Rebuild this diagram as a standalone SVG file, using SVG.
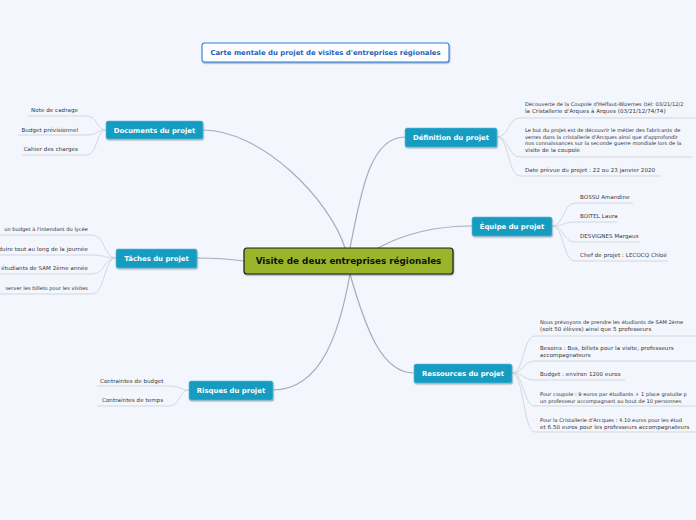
<svg xmlns="http://www.w3.org/2000/svg" width="696" height="520" viewBox="0 0 696 520">
<defs>
<filter id="sh" x="-10%" y="-20%" width="120%" height="160%"><feDropShadow dx="0.6" dy="1.2" stdDeviation="0.6" flood-color="#000" flood-opacity="0.35"/></filter>
</defs>
<style>
.bg{fill:#f3f6fd}
.br rect{fill:#189bc1;stroke:#5fbcd8;stroke-width:0.6}
.br text{fill:#fff;font-family:"DejaVu Sans",sans-serif;font-weight:bold;font-size:6.9px;text-anchor:middle}
.lf{fill:#333;font-family:"DejaVu Sans",sans-serif;font-size:5.5px;letter-spacing:0.08px}
.e{font-size:5.15px;letter-spacing:0}
.lr{text-anchor:end}
.c{fill:none;stroke:#a8abb6;stroke-width:1.2}
.u{fill:none;stroke:#cfd2da;stroke-width:0.9}
</style>
<rect class="bg" x="0" y="0" width="696" height="520"/>
<g id="connectors">
<path class="c" d="M345,248 C330,200 262,130 203,130"/>
<path class="c" d="M350,248 C360,200 368,137 405,137"/>
<path class="c" d="M378,248 C400,236 432,226 472,226"/>
<path class="c" d="M244,261 C230,259 212,258 197,258"/>
<path class="c" d="M350,274 C340,330 322,390 273,390"/>
<path class="c" d="M350,274 C366,330 382,373 414,373"/>
<path class="u" d="M106,130 C96,130 98,116 86,116 H28"/>
<path class="u" d="M106,130 C96,130 98,135 86,135 H18"/>
<path class="u" d="M106,130 C96,130 98,155 86,155 H22"/>
<path class="u" d="M116,258 C104,258 105,235 92,235 H0"/>
<path class="u" d="M116,258 C104,258 105,255 92,255 H0"/>
<path class="u" d="M116,258 C104,258 105,274 92,274 H0"/>
<path class="u" d="M116,258 C104,258 105,294 92,294 H0"/>
<path class="u" d="M189,390 C179,390 180,386 170,386 H97"/>
<path class="u" d="M189,390 C179,390 180,406 170,406 H97"/>
<path class="u" d="M497,137 C509,137 508,118 520,118 H696"/>
<path class="u" d="M497,137 C509,137 508,157 520,157 H692"/>
<path class="u" d="M497,137 C509,137 508,176 520,176 H661"/>
<path class="u" d="M552,226 C564,226 563,203 575,203 H633"/>
<path class="u" d="M552,226 C564,226 563,222 575,222 H617"/>
<path class="u" d="M552,226 C564,226 563,242 575,242 H640"/>
<path class="u" d="M552,226 C564,226 563,261 575,261 H668"/>
<path class="u" d="M512,373 C524,373 523,336 535,336 H696"/>
<path class="u" d="M512,373 C524,373 523,361 535,361 H696"/>
<path class="u" d="M512,373 C524,373 523,380 535,380 H625"/>
<path class="u" d="M512,373 C524,373 523,406 535,406 H696"/>
<path class="u" d="M512,373 C524,373 523,432 535,432 H696"/>
</g>
<g id="title">
<rect x="202" y="43" width="247" height="19" rx="2.5" fill="#fff" stroke="#2f7fdc" stroke-width="1.1" filter="url(#sh)"/>
<text x="325.5" y="55.2" fill="#1f5fbf" font-family="DejaVu Sans,sans-serif" font-weight="bold" font-size="6.9" text-anchor="middle">Carte mentale du projet de visites d'entreprises régionales</text>
</g>
<g id="center">
<rect x="244" y="248" width="209" height="26" rx="3" fill="#9bb52b" stroke="#1e1e1e" stroke-width="1.2" filter="url(#sh)"/>
<text x="348.5" y="264.3" fill="#111" font-family="DejaVu Sans,sans-serif" font-weight="bold" font-size="8.8" text-anchor="middle">Visite de deux entreprises régionales</text>
</g>
<g id="documents" class="br">
<rect x="106" y="121" width="97" height="18" rx="2" filter="url(#sh)"/>
<text x="154.5" y="132.5">Documents du projet</text>
</g>
<g id="documents-leaves">
<text class="lf lr" x="78" y="112">Note de cadrage</text>
<text class="lf lr" x="78" y="132">Budget prévisionnel</text>
<text class="lf lr" x="78" y="151">Cahier des charges</text>
</g>
<g id="taches" class="br">
<rect x="116" y="249" width="81" height="19" rx="2" filter="url(#sh)"/>
<text x="156.5" y="261">Tâches du projet</text>
</g>
<g id="taches-leaves">
<text class="lf lr e" x="88" y="231">un budget à l'intendant du lycée</text>
<text class="lf lr" x="88" y="251">duire tout au long de la journée</text>
<text class="lf lr" x="88" y="270">étudiants  de SAM 2ème année</text>
<text class="lf lr e" x="88" y="290">server les billets pour les visites</text>
</g>
<g id="risques" class="br">
<rect x="189" y="381" width="84" height="19" rx="2" filter="url(#sh)"/>
<text x="231" y="393">Risques du projet</text>
</g>
<g id="risques-leaves">
<text class="lf" x="100" y="383">Contraintes de budget</text>
<text class="lf" x="102" y="402">Contraintes de temps</text>
</g>
<g id="definition" class="br">
<rect x="405" y="128" width="92" height="19" rx="2" filter="url(#sh)"/>
<text x="451" y="140">Définition du projet</text>
</g>
<g id="definition-leaves">
<text class="lf e" x="525" y="106">Découverte de la Coupole d'Helfaut-Wizernes (tél: 03/21/12/2</text>
<text class="lf" x="525" y="113">la Cristallerie d'Arques à Arques (03/21/12/74/74)</text>
<text class="lf e" x="525" y="132">Le but du projet est de découvrir le métier des fabricants de</text>
<text class="lf e" x="525" y="138.5">verres dans la cristallerie d'Arcques  ainsi que d'approfondir</text>
<text class="lf e" x="525" y="145">nos connaissances sur la seconde guerre mondiale lors de la</text>
<text class="lf" x="525" y="151.5">visite de la coupole</text>
<text class="lf" x="525" y="172">Date prévue du projet : 22 ou 23  janvier 2020</text>
</g>
<g id="equipe" class="br">
<rect x="472" y="217" width="80" height="19" rx="2" filter="url(#sh)"/>
<text x="512" y="229">Équipe du projet</text>
</g>
<g id="equipe-leaves">
<text class="lf" x="580" y="199">BOSSU Amandine</text>
<text class="lf" x="580" y="218">BOITEL Laura</text>
<text class="lf" x="580" y="238">DESVIGNES Margaux</text>
<text class="lf" x="580" y="257">Chef de projet : LECOCQ Chloé</text>
</g>
<g id="ressources" class="br">
<rect x="414" y="364" width="98" height="19" rx="2" filter="url(#sh)"/>
<text x="463" y="376">Ressources du projet</text>
</g>
<g id="ressources-leaves">
<text class="lf e" x="540" y="324">Nous prévoyons de prendre les étudiants de SAM 2ème</text>
<text class="lf" x="540" y="330.5">(soit  50 élèves) ainsi que 5 professeurs</text>
<text class="lf" x="540" y="350">Besoins : Bus, billets pour la visite, professeurs</text>
<text class="lf" x="540" y="356.5">accompagnateurs</text>
<text class="lf" x="540" y="376">Budget : environ 1200 euros</text>
<text class="lf e" x="540" y="396">Pour coupole : 9 euros par étudiants + 1 place gratuite p</text>
<text class="lf e" x="540" y="402.5">un professeur accompagnant au bout de 10 personnes</text>
<text class="lf e" x="540" y="422">Pour la Cristallerie d'Arcques : 4.10 euros pour les  étud</text>
<text class="lf" x="540" y="428.5">et 6.50 euros pour les professeurs accompagnateurs</text>
</g>
</svg>
